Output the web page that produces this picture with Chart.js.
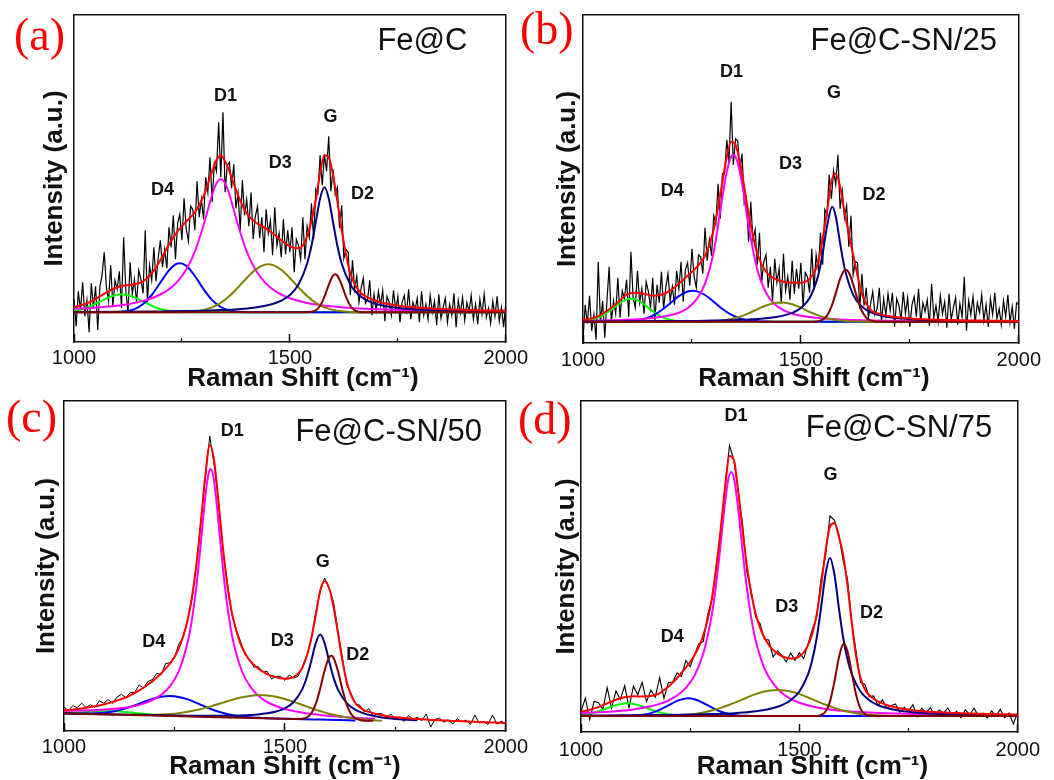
<!DOCTYPE html>
<html>
<head>
<meta charset="utf-8">
<script src="https://cdn.jsdelivr.net/npm/chart.js@4.4.1/dist/chart.umd.min.js"></script>
<style>
  body { margin: 0; background: #fff; width: 1054px; height: 780px; position: relative; overflow: hidden; }
  canvas { position: absolute; }
  .tag { position: absolute; font: 46px "Liberation Serif", "Times New Roman", serif; color: #f00; line-height: 1; }
</style>
</head>
<body>
<canvas id="pa" width="540" height="400" style="left:0;top:0"></canvas>
<canvas id="pb" width="534" height="400" style="left:520px;top:0"></canvas>
<canvas id="pc" width="540" height="395" style="left:0;top:385px"></canvas>
<canvas id="pd" width="534" height="395" style="left:520px;top:385px"></canvas>
<div class="tag" style="left:14px;top:12px">(a)</div>
<div class="tag" style="left:520px;top:6px">(b)</div>
<div class="tag" style="left:6px;top:394px">(c)</div>
<div class="tag" style="left:518px;top:396px">(d)</div>
<script>
// ---------- raman shift grids (cm-1) ----------
const shift5 = [
  1000,1005,1010,1015,1020,1025,1030,1035,1040,1045,1050,1055,1060,1065,1070,1075,1080,1085,1090,1095,
  1100,1105,1110,1115,1120,1125,1130,1135,1140,1145,1150,1155,1160,1165,1170,1175,1180,1185,1190,1195,
  1200,1205,1210,1215,1220,1225,1230,1235,1240,1245,1250,1255,1260,1265,1270,1275,1280,1285,1290,1295,
  1300,1305,1310,1315,1320,1325,1330,1335,1340,1345,1350,1355,1360,1365,1370,1375,1380,1385,1390,1395,
  1400,1405,1410,1415,1420,1425,1430,1435,1440,1445,1450,1455,1460,1465,1470,1475,1480,1485,1490,1495,
  1500,1505,1510,1515,1520,1525,1530,1535,1540,1545,1550,1555,1560,1565,1570,1575,1580,1585,1590,1595,
  1600,1605,1610,1615,1620,1625,1630,1635,1640,1645,1650,1655,1660,1665,1670,1675,1680,1685,1690,1695,
  1700,1705,1710,1715,1720,1725,1730,1735,1740,1745,1750,1755,1760,1765,1770,1775,1780,1785,1790,1795,
  1800,1805,1810,1815,1820,1825,1830,1835,1840,1845,1850,1855,1860,1865,1870,1875,1880,1885,1890,1895,
  1900,1905,1910,1915,1920,1925,1930,1935,1940,1945,1950,1955,1960,1965,1970,1975,1980,1985,1990,1995,
  2000
];
const shift10 = [
  1000,1010,1020,1030,1040,1050,1060,1070,1080,1090,1100,1110,1120,1130,1140,1150,1160,1170,1180,1190,
  1200,1210,1220,1230,1240,1250,1260,1270,1280,1290,1300,1310,1320,1330,1340,1350,1360,1370,1380,1390,
  1400,1410,1420,1430,1440,1450,1460,1470,1480,1490,1500,1510,1520,1530,1540,1550,1560,1570,1580,1590,
  1600,1610,1620,1630,1640,1650,1660,1670,1680,1690,1700,1710,1720,1730,1740,1750,1760,1770,1780,1790,
  1800,1810,1820,1830,1840,1850,1860,1870,1880,1890,1900,1910,1920,1930,1940,1950,1960,1970,1980,1990,
  2000
];

// ---------- (a) Fe@C ----------
const rawA = [
  13,-14,21,2,30,-4,12,-20,29,5,26,-18,26,37,60,25,11,47,6,32,
  23,41,4,75,22,0,50,18,33,9,42,33,19,82,10,47,32,65,31,54,
  72,45,63,44,85,65,97,53,89,98,72,114,83,71,106,103,82,131,95,113,
  93,135,120,155,110,149,141,190,135,200,120,147,150,124,148,104,119,82,132,97,
  113,86,120,73,96,106,74,95,60,103,79,92,57,105,67,79,55,93,58,82,
  60,85,40,73,67,53,95,53,86,75,109,73,123,119,157,127,158,141,176,121,
  143,118,125,84,107,54,63,60,17,52,23,36,10,24,34,9,13,32,-3,18,
  2,21,7,22,-9,16,10,-3,22,2,16,-10,10,17,-2,23,-7,10,3,14,
  -10,21,-3,8,-7,17,0,11,-13,18,-6,5,14,-10,8,-3,19,-15,12,-1,
  15,-8,10,1,17,-7,8,-12,13,-2,18,-5,4,-11,11,-4,16,-9,5,-15,9
];
const fitA = [[1000,5],[1020,7.5],[1040,11],[1060,16],[1080,21],[1100,25],[1120,27],[1140,28],[1160,31],[1180,39],
  [1200,52],[1220,68],[1240,81],[1260,91],[1280,100],[1300,116],[1320,141],[1330,152],[1340,157],[1350,151],[1360,141],
  [1380,117],[1400,99],[1420,90],[1440,85],[1460,79],[1480,72],[1500,66],[1520,64],[1540,76],[1560,112],[1570,139],
  [1580,157],[1590,155],[1600,137],[1610,111],[1620,82],[1640,39],[1660,21.5],[1680,15],[1700,11.3],[1720,9],
  [1740,7.3],[1760,6.1],[1780,5.2],[1800,4.5],[1840,3.5],[1880,2.8],[1920,2.3],[1960,1.9],[2000,1.6]];
const greenA = [[1000,1.4],[1020,3.3],[1040,6.5],[1060,10.6],[1080,14.9],[1100,17.6],[1110,18],[1120,17.6],[1140,14.9],
  [1160,10.6],[1180,6.5],[1200,3.3],[1220,1.4],[1240,0.5],[1260,0],[2000,0]];
const blueA = [[1000,0],[1100,0.2],[1120,1.0],[1140,3.2],[1160,8.3],[1180,17.3],[1200,29.7],[1220,42.0],[1240,48.9],
  [1245,49],[1260,46.4],[1280,36.3],[1300,23.2],[1320,12.2],[1340,5.3],[1360,1.9],[1380,0.5],[1400,0],[2000,0]];
const magentaA = [[1000,3.4],[1040,4.3],[1080,5.7],[1120,7.8],[1160,11.4],[1180,14.1],[1200,17.8],[1220,23.1],[1240,30.9],
  [1260,42.7],[1280,60.7],[1300,87.0],[1320,117.5],[1330,129],[1340,133],[1350,129],[1360,117.5],[1380,87.0],[1400,60.7],
  [1420,42.7],[1440,30.9],[1460,23.1],[1480,17.8],[1500,14.1],[1540,9.4],[1600,5.7],[1660,3.8],[1740,2.5],[1840,1.6],[2000,0.9]];
const oliveA = [[1000,0],[1240,0],[1260,0.4],[1280,1.0],[1300,2.4],[1320,5.0],[1340,9.5],[1360,16.3],[1380,24.9],[1400,34.3],
  [1420,42.6],[1440,47.4],[1450,48],[1460,47.4],[1480,42.6],[1500,34.3],[1520,24.9],[1540,16.3],[1560,9.5],[1580,5.0],
  [1600,2.4],[1620,1.0],[1640,0.4],[1660,0],[2000,0]];
const navyA = [[1000,0.4],[1100,0.5],[1200,0.9],[1260,1.2],[1300,1.6],[1340,2.2],[1380,3.1],[1420,4.8],[1440,6.2],[1460,8.3],
  [1480,11.6],[1500,17.2],[1520,27.7],[1540,48.8],[1550,66.5],[1560,90],[1570,113.9],[1580,125],[1590,113.9],[1600,90],
  [1610,66.5],[1620,48.8],[1640,27.7],[1660,17.2],[1680,11.6],[1700,8.3],[1720,6.2],[1760,3.8],[1800,2.6],[1860,1.6],
  [1920,1.1],[2000,0.7]];
const wineA = [[1000,0],[1540,0.1],[1550,0.5],[1560,2.1],[1570,6.6],[1580,15.5],[1590,27.5],[1600,36.7],[1605,38],[1610,36.7],
  [1620,27.5],[1630,15.5],[1640,6.6],[1650,2.1],[1660,0.5],[1670,0.1],[2000,0]];

// ---------- (b) Fe@C-SN/25 ----------
const rawB = [
  -18,17,-2,26,-9,7,-18,60,-1,21,-16,21,55,-1,21,8,44,4,31,23,
  42,5,70,24,14,51,19,33,8,40,30,14,44,1,37,19,50,13,34,48,
  21,35,17,51,33,60,20,52,59,36,73,45,34,67,65,48,94,61,82,66,
  106,98,138,103,148,149,182,159,220,157,183,181,152,168,118,124,80,120,82,92,
  57,89,39,60,67,34,55,20,63,39,53,18,68,31,45,22,61,28,53,33,
  59,15,49,45,29,73,32,67,52,89,57,112,107,147,123,151,137,167,113,131,
  104,116,75,106,47,60,59,13,48,16,34,4,18,30,7,13,34,0,23,6,
  28,11,29,-5,23,16,2,30,8,24,-5,17,25,5,33,-1,19,10,22,-4,
  38,4,16,0,26,8,20,-6,28,2,14,24,-3,18,5,45,-9,21,7,25,
  -1,19,9,27,1,17,-5,23,7,29,3,13,-3,21,5,27,-1,15,-7,19,17
];
const fitB = [[1000,2],[1020,3.3],[1040,6.6],[1060,12.4],[1080,19.3],[1100,27],[1120,29],[1140,28],[1160,26],[1180,27],
  [1200,31],[1220,38],[1240,46],[1260,54],[1280,66],[1300,92],[1320,140],[1330,165],[1340,180],[1350,177],[1360,160],
  [1370,135],[1380,108],[1400,68],[1420,50],[1440,43],[1460,40],[1480,39],[1500,39],[1520,43],[1540,60],[1560,110],
  [1570,140],[1580,148],[1590,135],[1600,110],[1620,67],[1640,28],[1660,12],[1680,7.8],[1700,5.7],[1720,4.5],
  [1740,3.6],[1760,3],[1800,2.1],[1840,1.6],[1880,1.3],[1920,1.1],[1960,0.9],[2000,0.7]];
const greenB = [[1000,0.6],[1020,1.9],[1040,5.1],[1060,10.7],[1080,17.4],[1100,22.3],[1110,23],[1120,22.3],[1140,17.4],
  [1160,10.7],[1180,5.1],[1200,1.9],[1220,0.6],[1240,0.1],[1260,0],[2000,0]];
const blueB = [[1000,0],[1080,0],[1100,0.4],[1120,1.1],[1140,2.8],[1160,6.1],[1180,11.4],[1200,18.4],[1220,25.5],[1240,30.2],
  [1252,31],[1260,30.6],[1280,26.7],[1300,19.9],[1320,12.7],[1340,7.0],[1360,3.3],[1380,1.3],[1400,0.5],[1420,0.1],
  [1440,0],[2000,0]];
const magentaB = [[1000,1],[1100,2],[1160,3.8],[1200,6.5],[1220,9],[1240,13.5],[1260,22],[1280,38],[1300,70],[1320,125],
  [1330,150],[1340,165],[1345,167],[1350,165],[1360,150],[1370,125],[1380,96],[1400,52],[1420,29],[1440,17.5],[1460,11.5],
  [1480,8],[1500,6],[1540,3.6],[1600,2],[1700,1],[2000,0.3]];
const oliveB = [[1000,0],[1280,0],[1300,0.5],[1320,1.3],[1340,2.7],[1360,5.0],[1380,8.4],[1400,12.4],[1420,16.2],[1440,18.7],
  [1454,19.3],[1460,19.2],[1480,17.4],[1500,14.0],[1520,9.9],[1540,6.3],[1560,3.5],[1580,1.7],[1600,0.8],[1620,0.3],
  [1640,0.1],[1660,0],[2000,0]];
const navyB = [[1000,0.25],[1100,0.36],[1200,0.58],[1260,0.82],[1300,1.08],[1340,1.48],[1380,2.14],[1420,3.39],[1440,4.45],
  [1460,6.1],[1480,8.8],[1500,13.6],[1520,23.7],[1540,46.8],[1550,68.1],[1560,95.4],[1572,115],[1580,105.4],[1590,78.7],
  [1600,54.3],[1620,26.9],[1640,15.2],[1660,9.5],[1680,6.5],[1700,4.7],[1720,3.6],[1760,2.2],[1800,1.5],[1860,0.96],
  [1920,0.66],[2000,0.44]];
const wineB = [[1000,0],[1530,0],[1540,0.5],[1550,2.0],[1560,6.1],[1570,14.8],[1580,28.3],[1590,42.8],[1600,51.5],[1603,52],
  [1610,49.1],[1620,37.3],[1630,22.4],[1640,10.7],[1650,4.1],[1660,1.2],[1670,0.3],[1680,0],[2000,0]];

// ---------- (c) Fe@C-SN/50 ----------
const rawC = [
  12.9,9.3,14.4,12.3,16.8,12.5,15.3,12.6,19.1,16.7,
  20.6,16.6,22.8,25.8,22.4,27.4,27.5,35.1,31.9,38.5,
  40.3,46.7,45.4,56.3,57.3,61.9,76.1,82.6,101.0,121.2,
  157.9,199.1,242.2,284,254.4,218.1,170.1,137.2,105.3,90.2,
  78.2,65.4,60.2,52.8,53.4,47.8,48.7,41.0,43.7,43.6,
  39.6,45.0,41.9,43.7,54.0,65.2,80.2,108.5,128.2,142,
  131.9,118.3,89.8,62.8,35.1,26.1,16.2,14.7,8.0,11.4,
  4.1,6.5,6.2,3.0,5.8,0.7,2.8,-1.5,4.5,0.6,
  2.8,-0.7,6,-7,0.6,1.8,-2.3,0.4,-4.1,1.4,
  -1.7,-0.1,-4.5,5,-3.1,-1.5,-4.5,5,-4.1,-1.1,
  -3.7
];
const fitC = [
  9.8,10.05,10.3,10.95,11.6,12.25,12.9,13.75,14.6,15.7,
  16.8,18.1,19.4,20.95,22.5,24.7,26.9,29.6,32.3,35.45,
  38.6,42.55,46.5,51.5,56.5,63,71.9,84,100.3,124,
  156.1,198.7,245,275,259,216.7,171.1,134,107.4,89.5,
  75.7,66.8,59.8,55.2,51.3,48.5,45.9,44.1,42.6,41.8,
  41.3,41.8,42.9,46.5,52.6,64.5,82.3,105,129.6,139,
  132,113.5,87.5,60,38.2,25,16.5,12.6,9.7,8.2,
  6.9,5.8,4.8,4.0,3.3,2.8,2.4,2.0,1.7,1.3,
  1.0,0.7,0.4,0.1,-0.1,-0.3,-0.5,-0.7,-0.9,-1.1,
  -1.3,-1.5,-1.65,-1.8,-2.0,-2.2,-2.35,-2.5,-2.7,-2.85,
  -3.0
];
const greenC = [[1000,7.0],[1020,7.2],[1040,7.7],[1060,8.2],[1080,8.7],[1100,9.0],[1120,8.7],[1140,8.0],[1160,7.1],
  [1180,6.2],[1200,5.3],[1220,4.7],[1240,4.2]];
const blueC = [[1000,6.5],[1020,6.3],[1040,6.4],[1060,6.5],[1080,6.9],[1100,7.8],[1120,9.3],[1140,11.6],[1160,14.6],
  [1180,18.0],[1200,21.1],[1220,23.3],[1240,24.0],[1260,23.0],[1280,20.6],[1300,17.1],[1320,13.3],[1340,9.8],[1360,7.0],
  [1380,5.0],[1400,3.6],[1420,2.7],[1440,2.2],[1460,1.8],[1500,1.25],[1540,0.8],[1580,0.4],[1620,0.0],[1660,-0.4]];
const magentaC = [[1000,9.1],[1040,9.4],[1080,10.1],[1120,11.4],[1160,14.1],[1180,16.4],[1200,19.8],[1220,25.1],[1240,33.8],
  [1260,49.0],[1280,77.9],[1290,101.7],[1300,134.9],[1310,178.0],[1320,223.6],[1326,243.6],[1332,251.0],[1338,243.4],
  [1344,223.4],[1354,177.6],[1364,134.2],[1374,100.8],[1384,76.8],[1404,47.5],[1424,31.9],[1444,22.8],[1464,17.0],
  [1484,13.2],[1504,10.5],[1544,7.0],[1584,4.8],[1624,3.3],[1664,2.1],[1704,1.2]];
const oliveC = [[1160,5.0],[1180,5.0],[1200,5.1],[1220,5.4],[1240,5.9],[1260,6.8],[1280,8.2],[1300,10.0],[1320,12.1],
  [1340,14.7],[1360,17.4],[1380,20.1],[1400,22.5],[1420,24.1],[1440,24.9],[1460,24.5],[1480,23.2],[1500,21.0],[1520,18.1],
  [1540,15.0],[1560,11.8],[1580,8.9],[1600,6.3],[1620,4.2],[1640,2.6],[1660,1.4],[1680,0.4],[1700,-0.25],[1720,-0.8]];
const navyC = [[1000,6.7],[1200,4.9],[1300,4.3],[1360,4.3],[1400,4.6],[1440,5.6],[1460,6.7],[1480,8.5],[1500,11.7],[1520,18.0],
  [1540,31.4],[1550,43.2],[1560,59.5],[1570,77.0],[1580,85.4],[1590,76.8],[1600,59.1],[1610,42.6],[1620,30.6],[1640,16.8],
  [1660,10.1],[1680,6.4],[1700,4.2],[1720,2.6],[1760,0.8],[1800,-0.35]];
const wineC = [[1000,6.5],[1100,5.45],[1200,4.4],[1300,3.35],[1400,2.3],[1500,1.25],[1520,1.04],[1540,1.3],[1550,2.7],
  [1560,6.8],[1570,16.1],[1580,31.5],[1590,49.6],[1600,62.4],[1605,64.2],[1610,62.3],[1620,49.3],[1630,31.0],[1640,15.4],
  [1650,5.9],[1660,1.6],[1670,0.0],[1680,-0.64],[1700,-0.85]];

// ---------- (d) Fe@C-SN/75 ----------
const rawD = [
  4.5,18.0,-3.5,14.7,13.3,6.8,28.2,7.7,24.9,16.4,
  30.2,8.3,29.8,21.2,33.7,14.3,25.7,18.6,38.3,17.6,
  33.3,34.0,43.2,39.5,55.4,49.3,61.5,72.3,74.3,101.4,
  116.3,152.3,183.4,230.5,270.5,256.1,224.2,191.6,143.9,124.1,
  98.7,92.3,76.8,76.0,59.1,65.2,60.5,54.0,63.0,55.7,
  63.2,57.4,72.3,87.2,99.6,138.3,160.2,200,196,182.7,
  155.8,137.4,94.0,63.8,33.7,31.5,19.4,20.1,10.4,16.2,
  8.0,10.3,12.1,3.5,8.8,4.6,11.2,-0.7,7.9,3.3,
  8.4,0.3,6.1,2.9,8.1,0.1,4.8,-2.0,6.3,1.3,
  7.8,-0.1,2.8,-2.1,5.0,0.1,6.6,-1.8,2.9,-8,
  4.0
];
const fitD = [
  4.3,5.2,6.1,7.5,8.9,10.8,12.6,14.5,16.3,17.6,
  18.8,19.3,19.8,19.6,19.5,19.7,19.9,21.2,22.7,25.8,
  29.2,33.4,38.0,43,48.4,54.2,60.8,69.5,80.6,96.5,
  118.4,148.8,187.6,229.1,260,256,224.9,185.3,149.5,122.0,
  102.2,88.1,78.2,71.1,66.1,62.4,59.8,58.2,57.4,57.8,
  59.7,63.7,70.9,83.0,102.4,131.3,165.1,189.5,193,180,
  161.4,131.1,92.8,59.4,37.9,26.6,20.8,17.3,14.6,12.7,
  11.0,9.7,8.5,7.7,7.0,6.4,5.8,5.3,4.9,4.5,
  4.2,3.9,3.7,3.5,3.3,3.1,3.0,2.8,2.7,2.5,
  2.4,2.3,2.2,2.1,2.0,1.9,1.8,1.8,1.7,1.6,
  1.6
];
const greenD = [[1000,0.97],[1020,2.3],[1040,4.7],[1060,7.8],[1080,10.9],[1100,12.6],[1106,12.7],[1120,12.1],[1140,9.7],
  [1160,6.5],[1180,3.6],[1200,1.7],[1220,0.6],[1240,0.2],[1260,0],[2000,0]];
const blueD = [[1000,0],[1100,0],[1120,0.35],[1140,1.1],[1160,2.9],[1180,6.1],[1200,10.6],[1220,15.1],[1240,17.6],[1245,17.7],
  [1260,16.7],[1280,13.0],[1300,8.3],[1320,4.3],[1340,1.8],[1360,0.6],[1380,0.2],[1400,0],[2000,0]];
const magentaD = [[1000,2.9],[1040,3.7],[1080,4.8],[1120,6.6],[1160,9.7],[1180,12.1],[1200,15.5],[1220,20.5],[1240,28.1],
  [1260,40.5],[1280,62.4],[1300,102.7],[1310,133.9],[1320,173.0],[1330,214.2],[1337,236],[1344,244],[1351,236],[1360,206.4],
  [1370,164.9],[1380,127.0],[1390,97.4],[1400,75.5],[1420,47.7],[1440,32.3],[1460,23.1],[1480,17.2],[1500,13.3],[1540,8.6],
  [1580,6.0],[1620,4.4],[1660,3.4],[1700,2.7],[1800,1.6],[1900,1.1],[2000,0.8]];
const oliveD = [[1000,0],[1180,0],[1200,0.34],[1220,0.67],[1240,1.2],[1260,2.1],[1280,3.5],[1300,5.5],[1320,8.1],[1340,11.2],
  [1360,14.8],[1380,18.5],[1400,21.9],[1420,24.4],[1440,25.8],[1450,26],[1460,25.8],[1480,24.4],[1500,21.9],[1520,18.5],
  [1540,14.8],[1560,11.2],[1580,8.1],[1600,5.5],[1620,3.5],[1640,2.1],[1660,1.2],[1680,0.67],[1700,0.34],[1720,0],[2000,0]];
const navyD = [[1000,0.44],[1100,0.64],[1200,1.03],[1260,1.47],[1300,1.9],[1340,2.6],[1380,3.8],[1400,4.8],[1420,6.1],[1440,8.0],
  [1460,10.9],[1480,15.8],[1500,24.5],[1520,41.8],[1530,56.9],[1540,79],[1550,109.4],[1560,142.2],[1570,158],[1580,142.2],
  [1590,109.4],[1600,79],[1610,56.9],[1620,41.8],[1640,24.5],[1660,15.8],[1680,10.9],[1700,8.0],[1720,6.1],[1760,3.8],
  [1800,2.6],[1880,1.47],[1940,1.03],[2000,0.77]];
const wineD = [[1000,0],[1540,0],[1550,1.0],[1560,4.5],[1570,14.4],[1580,33.7],[1590,57.4],[1600,71.8],[1602,72],[1610,65.1],
  [1620,43.1],[1630,21.0],[1640,7.4],[1650,1.9],[1660,0.4],[1670,0],[2000,0]];

// ---------- band labels (text, shift, intensity) ----------
const bandsA = [['D1',1351,216],['D4',1205,122],['D3',1478,149],['G',1594,195],['D2',1668,118]];
const bandsB = [['D1',1341,250],['D4',1205,131],['D3',1476,158],['G',1576,229],['D2',1668,127]];
const bandsC = [['D1',1381,289],['D4',1203,78],['D3',1494,79],['G',1586,158],['D2',1665,65]];
const bandsD = [['D1',1355,300],['D4',1209,79],['D3',1471,109],['G',1571,241],['D2',1665,103]];

const FONT = '"Liberation Sans", Arial, sans-serif';
const INK = '#111';

const toPts = pairs => pairs.map(p => ({ x: p[0], y: p[1] }));
const onGrid = (grid, vals) => vals.map((v, i) => ({ x: grid[i], y: v }));

// text inside the plot, placed through the chart's own scales
const bandText = {
  id: 'bandText',
  afterDatasetsDraw(chart, args, opts) {
    const { ctx, scales: { x, y } } = chart;
    ctx.save();
    ctx.fillStyle = INK;
    ctx.textAlign = 'center';
    ctx.textBaseline = 'middle';
    ctx.font = 'bold 18px ' + FONT;
    opts.bands.forEach(b => ctx.fillText(b[0], x.getPixelForValue(b[1]), y.getPixelForValue(b[2])));
    ctx.font = '31px ' + FONT;
    ctx.fillText(opts.sample[0], x.getPixelForValue(opts.sample[1]), y.getPixelForValue(opts.sample[2]));
    ctx.restore();
  }
};

function line(data, color, width, order, smooth) {
  return {
    data, borderColor: color, borderWidth: width, order,
    pointRadius: 0, fill: false, tension: 0,
    cubicInterpolationMode: smooth ? 'monotone' : 'default'
  };
}

function frameScale(pos, min, max, sizeKey) {
  return {
    type: 'linear', position: pos, min, max,
    ticks: { display: false },
    grid: { drawOnChartArea: false, drawTicks: false },
    border: { display: true, color: INK, width: 1.5 },
    afterFit: s => { s[sizeKey] = 0; }
  };
}

function panel(id, box, s, bands, sample) {
  new Chart(document.getElementById(id), {
    type: 'line',
    data: {
      datasets: [
        line(s.fit, '#ff0000', 2, 0, true),
        line(s.wine, '#800000', 2, 1, true),
        line(s.navy, '#000080', 2, 2, true),
        line(s.olive, '#808000', 2, 3, true),
        line(s.magenta, '#ff00ff', 2, 4, true),
        line(s.blue, '#0000ff', 2, 5, true),
        line(s.green, '#00ff00', 2, 6, true),
        line(s.raw, '#000', box.rawWidth, 9, false)
      ]
    },
    options: {
      animation: false,
      responsive: false,
      devicePixelRatio: 1,
      layout: { padding: { left: 0, top: box.top, right: box.right, bottom: 0 } },
      plugins: {
        legend: { display: false },
        tooltip: { enabled: false },
        bandText: { bands, sample }
      },
      scales: {
        x: {
          type: 'linear', position: 'bottom', weight: 1, min: 1000, max: 2000,
          ticks: { stepSize: 500, padding: box.tickPad, color: INK, font: { family: FONT, size: 20 },
                   maxRotation: 0, autoSkip: false, callback: v => String(v) },
          grid: { drawOnChartArea: false, tickLength: -8, tickWidth: 1.5, tickColor: INK },
          border: { display: true, color: INK, width: 1.5 },
          title: { display: true, text: box.lead + 'Raman Shift (cm\u207B\u00B9)', color: INK,
                   font: { family: FONT, size: 26, weight: 'bold', lineHeight: 1 },
                   padding: { top: 0, bottom: box.xTitlePad } },
          afterFit: sc => { sc.height = box.xHeight; }
        },
        xMinor: {
          type: 'linear', position: 'bottom', weight: 0, min: 1000, max: 2000,
          ticks: { stepSize: 250, display: false },
          grid: { drawOnChartArea: false, tickLength: -4, tickWidth: 1.2, tickColor: INK },
          border: { display: false },
          afterFit: sc => { sc.height = 0; }
        },
        xTop: frameScale('top', 1000, 2000, 'height'),
        y: {
          type: 'linear', position: 'left', min: box.yMin, max: box.yMax,
          ticks: { display: false },
          grid: { drawOnChartArea: false, drawTicks: false },
          border: { display: true, color: INK, width: 1.5 },
          title: { display: true, text: 'Intensity (a.u.)', color: INK,
                   font: { family: FONT, size: 26, weight: 'bold', lineHeight: 1 },
                   padding: { top: box.yTitlePad, bottom: 0 } },
          afterFit: sc => { sc.width = box.yWidth; }
        },
        yRight: frameScale('right', box.yMin, box.yMax, 'width')
      }
    },
    plugins: [bandText]
  });
}

panel('pa',
  { top: 15, right: 24, yWidth: 74, xHeight: 58, yMin: -29.7, yMax: 297.3, tickPad: 12, xTitlePad: 8, yTitlePad: 42,
    lead: '\u2003', rawWidth: 1.2 },
  { fit: toPts(fitA), green: toPts(greenA), blue: toPts(blueA), magenta: toPts(magentaA), olive: toPts(oliveA),
    navy: toPts(navyA), wine: toPts(wineA), raw: onGrid(shift5, rawA) },
  bandsA, ['Fe@C', 1807, 271]);

panel('pb',
  { top: 15, right: 27, yWidth: 63, xHeight: 57, yMin: -21.3, yMax: 306.7, tickPad: 13, xTitlePad: 8, yTitlePad: 35,
    lead: '\u2003', rawWidth: 1.2 },
  { fit: toPts(fitB), green: toPts(greenB), blue: toPts(blueB), magenta: toPts(magentaB), olive: toPts(oliveB),
    navy: toPts(navyB), wine: toPts(wineB), raw: onGrid(shift5, rawB) },
  bandsB, ['Fe@C-SN/25', 1736, 280]);

panel('pc',
  { top: 16, right: 30, yWidth: 64, xHeight: 49, yMin: -11, yMax: 319, tickPad: 12, xTitlePad: 0, yTitlePad: 34,
    lead: '', rawWidth: 1 },
  { fit: onGrid(shift10, fitC), green: toPts(greenC), blue: toPts(blueC), magenta: toPts(magentaC), olive: toPts(oliveC),
    navy: toPts(navyC), wine: toPts(wineC), raw: onGrid(shift10, rawC) },
  bandsC, ['Fe@C-SN/50', 1735, 288]);

panel('pd',
  { top: 16, right: 24, yWidth: 61, xHeight: 48, yMin: -16, yMax: 315, tickPad: 14, xTitlePad: 0, yTitlePad: 34,
    lead: '\u2003', rawWidth: 1.1 },
  { fit: onGrid(shift10, fitD), green: toPts(greenD), blue: toPts(blueD), magenta: toPts(magentaD), olive: toPts(oliveD),
    navy: toPts(navyD), wine: toPts(wineD), raw: onGrid(shift10, rawD) },
  bandsD, ['Fe@C-SN/75', 1728, 288]);
</script>
</body>
</html>
